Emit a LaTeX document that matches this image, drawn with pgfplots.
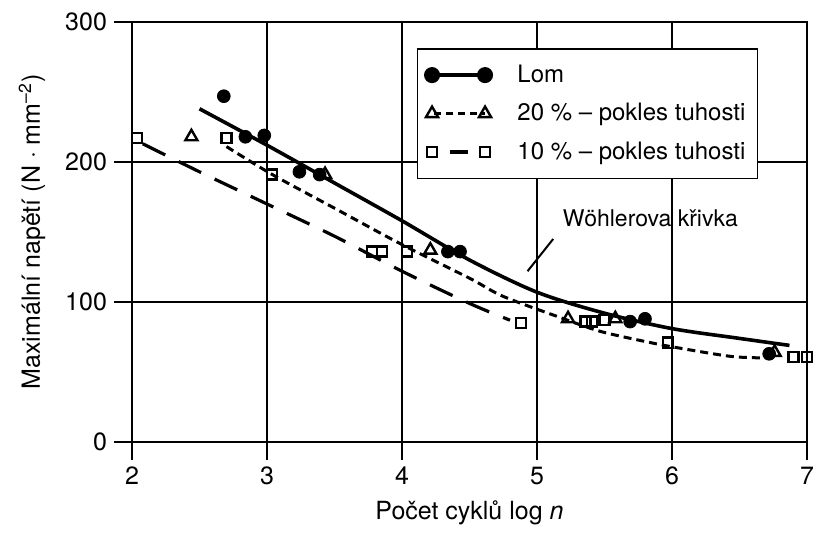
\documentclass[border=0pt]{standalone}
\usepackage{pgfplots}
\pgfplotsset{compat=1.18}
\usepackage{fontspec}
\setmainfont{TeX Gyre Heros}
\begin{document}
\begin{tikzpicture}
\path[use as bounding box] (0,0) rectangle (407pt,276pt);
\begin{axis}[
  at={(66pt,55pt)}, anchor=south west,
  scale only axis, width=337.5pt, height=210pt,
  xmin=2, xmax=7, ymin=0, ymax=300,
  xtick={2,3,4,5,6,7}, ytick={0,100,200,300},
  tick pos=left, tick align=outside, major tick length=9pt,
  tick style={black, line width=0.9pt},
  grid=major, major grid style={black, line width=0.7pt},
  axis line style={line width=1.3pt},
  /pgf/number format/assume math mode=true,
  ticklabel style={font=\fontsize{12.5}{14}\selectfont},
  xlabel={Počet cyklů log \textit{n}},
  ylabel={Maximální napětí (N · mm\textsuperscript{–2})},
  label style={font=\fontsize{12.5}{15}\selectfont},
  xlabel style={at={(axis description cs:0.5,-0.169)}, anchor=center},
  ylabel style={at={(axis description cs:-0.148,0.5)}, anchor=center},
  clip=false,
  legend cell align=left,
  legend image code/.code={%
    \draw[mark repeat=2, mark phase=1, #1] plot coordinates {(0pt,0pt) (13.25pt,0pt) (26.5pt,0pt)};},
  legend style={at={(0.422,0.938)}, anchor=north west, draw=black, line width=0.8pt,
    fill=white, font=\fontsize{12}{14}\selectfont, row sep=5pt,
    inner xsep=4pt, inner ysep=6pt,
    /tikz/every odd column/.append style={column sep=11pt}},
]
% legend images
\addlegendimage{black, line width=1.6pt, mark=*, mark size=3.2pt, mark options={solid, fill=black}}
\addlegendentry{Lom}
\addlegendimage{black, line width=1.4pt, dash pattern=on 3.5pt off 2.5pt, dash phase=-1pt, mark=triangle, mark size=3.5pt, mark options={solid, line width=1.2pt}}
\addlegendentry{20 \% – pokles tuhosti}
\addlegendimage{black, line width=1.6pt, dash pattern=on 0pt off 8.75pt on 9pt off 20pt, mark=square, mark size=2.5pt, mark options={solid, line width=1.1pt}}
\addlegendentry{10 \% – pokles tuhosti}

% curves
\addplot[forget plot, black, line width=1.8pt, smooth] coordinates {
  (2.5,238) (3,212) (3.5,185) (4,158) (4.5,130) (5,107) (5.5,92) (6,81) (6.5,74) (6.87,69)};
\addplot[forget plot, black, line width=1.5pt, smooth, dash pattern=on 4pt off 2.5pt] coordinates {
  (2.70,211) (3.04,191) (3.5,167) (4,141) (4.5,117) (4.75,104) (5.17,89) (5.47,79) (5.84,71) (6.06,67) (6.45,61) (6.75,60)};
\addplot[forget plot, black, line width=1.6pt, smooth, dash pattern=on 12.5pt off 7.5pt] coordinates {
  (2.08,213) (2.5,193) (3,170) (3.5,147) (4,122) (4.5,99) (4.8,87)};

% data points
\addplot[forget plot, only marks, mark=square, mark size=2.5pt, mark options={line width=1.1pt, fill=white}] coordinates {
  (2.04,217) (2.70,217) (3.04,191) (3.78,136) (3.85,136) (4.04,136) (4.88,85) (5.36,86) (5.41,86) (5.50,87) (5.97,71) (6.90,61) (7.00,61)};
\addplot[forget plot, only marks, mark=triangle, mark size=3.5pt, mark options={line width=1.2pt, fill=white}] coordinates {
  (2.44,218) (3.43,191) (4.21,137) (5.23,88) (5.58,88) (6.76,64)};
\addplot[forget plot, only marks, mark=*, mark size=3.2pt, mark options={fill=black}] coordinates {
  (2.68,247) (2.84,218) (2.98,219) (3.24,193) (3.39,191) (4.34,136) (4.43,136) (5.69,86) (5.80,88) (6.72,63)};

% annotation
\node[font=\fontsize{11.5}{13}\selectfont] at (axis cs:5.84,160) {Wöhlerova křivka};
\draw[black, line width=1pt] (axis cs:5.12,145) -- (axis cs:4.93,122);
\end{axis}
\end{tikzpicture}
\end{document}
